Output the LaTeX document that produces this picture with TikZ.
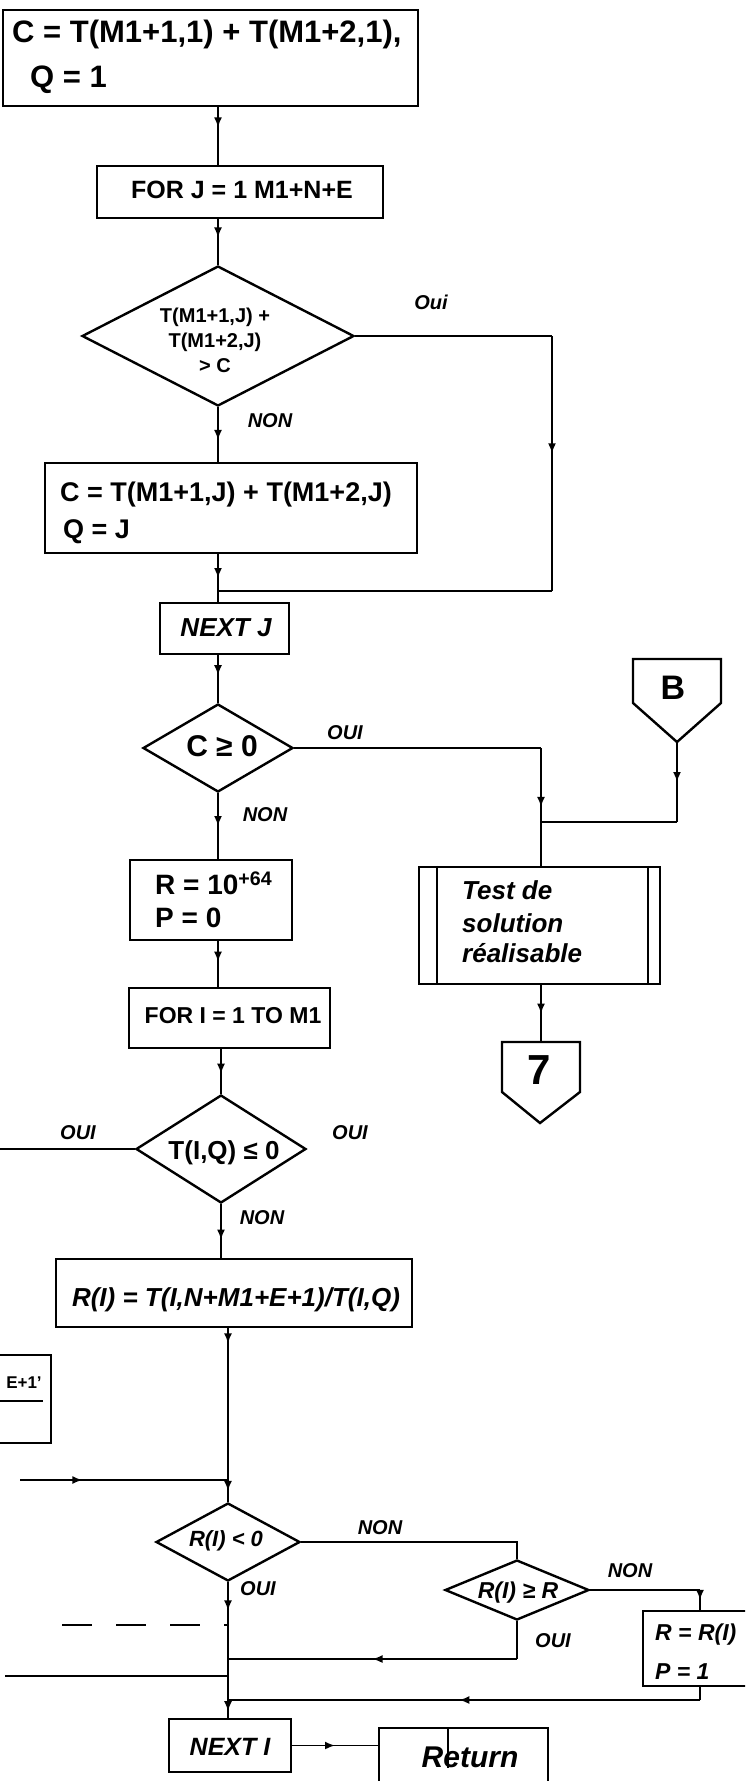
\documentclass[tikz,border=0pt]{standalone}
\usepackage{fontspec}
\setmainfont{Liberation Sans}
\usetikzlibrary{shapes.geometric,arrows.meta,decorations.markings}
\begin{document}
\begin{tikzpicture}[x=1pt,y=-1pt,
  shp/.style={draw,line width=2.4pt,inner sep=0pt},
  box/.style={shp,rectangle},
  dia/.style={shp,diamond},
  conn/.style={line width=1.8pt},
  marr/.style={postaction={decorate},decoration={markings,mark=at position #1 with {\arrow{Latex[length=10pt,width=8pt]}}}},
  tx/.style={inner sep=0pt,font=\bfseries\fontsize{#1}{#1}\selectfont},
  tw/.style={tx=#1,anchor=west},
  it/.style={inner sep=0pt,font=\bfseries\itshape\fontsize{#1}{#1}\selectfont},
  lbl/.style={it=20},
]
\useasboundingbox (0,0) rectangle (745,1781);
\clip (0,0) rectangle (745,1781);
\fill[white] (0,0) rectangle (745,1781);

% ---------- upper column ----------
\node[box,minimum width=415pt,minimum height=96pt] (b1) at (210.5,58) {};
\node[tw=31] (b1a) at (12,34) {C = T(M1+1,1) + T(M1+2,1),};
\node[tw=31] (b1b) at (30,80) {Q = 1};

\node[box,minimum width=286pt,minimum height=52pt] (b2) at (240,192) {};
\node[tx=25] (b2t) at (242,190) {FOR J = 1 M1+N+E};

\node[dia,minimum width=272pt,minimum height=140pt] (d1) at (218,336) {};
\node[inner sep=0pt,align=center,font=\bfseries\fontsize{20}{25}\selectfont] (d1t) at (215,340) {T(M1+1,J) +\\T(M1+2,J)\\> C};

\node[box,minimum width=372pt,minimum height=90pt] (b3) at (231,508) {};
\node[tw=27] (b3a) at (60,495) {C = T(M1+1,J) + T(M1+2,J)};
\node[tw=27] (b3b) at (63,532) {Q = J};

\node[box,minimum width=129pt,minimum height=51pt] (bJ) at (224.5,628.5) {};
\node[it=26] (bJt) at (226,628) {NEXT J};

\node[dia,minimum width=150pt,minimum height=88pt] (d2) at (218,748) {};
\node[tx=30] (d2t) at (222,746) {C ≥ 0};

\node[box,minimum width=162pt,minimum height=80pt] (bR) at (211,900) {};
\node[tw=28] (bRa) at (155,883) {R = 10\textsuperscript{+64}};
\node[tw=28] (bRb) at (155,918) {P = 0};

\node[box,minimum width=201pt,minimum height=60pt] (bF) at (229.5,1018) {};
\node[tx=23] (bFt) at (233,1016) {FOR I = 1 TO M1};

\node[dia,minimum width=170pt,minimum height=108pt] (d3) at (221,1149) {};
\node[tx=26] (d3t) at (224,1153) {T(I,Q) ≤ 0};

\node[box,minimum width=356pt,minimum height=68pt] (bRI) at (234,1293) {};
\node[it=26] (bRIt) at (236,1300) {R(I) = T(I,N+M1+E+1)/T(I,Q)};

% ---------- right branch ----------
\node[box,minimum width=241pt,minimum height=117pt] (test) at (539.5,925.5) {};
\draw[shp] ([xshift=19pt]test.north west) -- ([xshift=19pt]test.south west);
\draw[shp] ([xshift=-13pt]test.north east) -- ([xshift=-13pt]test.south east);
\node[it=26,anchor=west] (testa) at (462,890) {Test de};
\node[it=26,anchor=west] (testb) at (462,923) {solution};
\node[it=26,anchor=west] (testc) at (462,953) {réalisable};

\draw[shp] (633,659) -- (721,659) -- (721,703) -- (677,742) -- (633,703) -- cycle;
\coordinate (Btip) at (677,742);
\node[tx=34] (Bt) at (673,688) {B};

\draw[shp] (502,1042) -- (580,1042) -- (580,1092) -- (540,1123) -- (502,1092) -- cycle;
\coordinate (Stop) at (541,1042);
\node[tx=42] (St) at (539,1070) {7};

% ---------- lower part ----------
\draw[shp] (0,1355) -- (51,1355) -- (51,1443) -- (0,1443);
\node[tx=17] (Ft) at (24,1383) {E+1'};
\coordinate (Fa) at (0,1401);
\coordinate (Fb) at (43,1401);
\draw[line width=1.2pt] (Fa) -- (Fb);

\node[dia,minimum width=144pt,minimum height=78pt] (d4) at (228,1542) {};
\node[it=22] (d4t) at (226,1541) {R(I) < 0};

\node[dia,minimum width=144pt,minimum height=60pt] (d5) at (517,1590) {};
\node[it=23] (d5t) at (518,1593) {R(I) ≥ R};

\node[box,minimum width=127pt,minimum height=75pt] (bR2) at (706.5,1648.5) {};
\node[it=23,anchor=west] (bR2a) at (655,1635) {R = R(I)};
\node[it=23,anchor=west] (bR2b) at (655,1672) {P = 1};

\node[box,minimum width=122pt,minimum height=53pt] (bNI) at (230,1745.5) {};
\node[it=25] (bNIt) at (230,1747) {NEXT I};

\node[box,minimum width=169pt,minimum height=62pt] (bRet) at (463.5,1759) {};
\node[it=30] (bRett) at (470,1757) {Return};
\coordinate (rs1) at (448,1728);
\coordinate (rs2) at (448,1768);
\draw[line width=1.6pt] (rs1) -- (rs2);

% ---------- labels ----------
\node[lbl] (o1) at (431,302) {Oui};
\node[lbl] (n1) at (270,421) {NON};
\node[lbl] (o2) at (345,733) {OUI};
\node[lbl] (n2) at (265,815) {NON};
\node[lbl] (o3l) at (78,1133) {OUI};
\node[lbl] (o3r) at (350,1133) {OUI};
\node[lbl] (n3) at (262,1218) {NON};
\node[lbl] (n4) at (380,1528) {NON};
\node[lbl] (n5) at (630,1571) {NON};
\node[lbl] (o4) at (258,1589) {OUI};
\node[lbl] (o5) at (553,1641) {OUI};

% ---------- connectors ----------
\coordinate (cA) at (218,0);
\coordinate (cR) at (552,0);
\coordinate (cT) at (541,0);
\coordinate (cB) at (228,0);
\coordinate (cR2) at (700,0);
\coordinate (j1) at (218,591);
\coordinate (jB) at (541,822);
\coordinate (L3) at (0,1149);
\coordinate (j2) at (228,1480);
\coordinate (L4) at (20,1480);
\coordinate (j3) at (228,1625);
\coordinate (D1) at (62,1625);
\coordinate (j4) at (228,1659);
\coordinate (j6) at (228,1676);
\coordinate (L6) at (5,1676);
\coordinate (j5) at (228,1700);

\draw[conn,marr=0.35] (b1.south -| cA) -- (b2.north -| cA);
\draw[conn,marr=0.4] (b2.south -| cA) -- (d1.north);
\draw[conn] (d1.east) -- (d1.east -| cR);
\draw[conn,marr=0.46] (d1.east -| cR) -- (j1 -| cR);
\draw[conn] (j1 -| cR) -- (j1);
\draw[conn,marr=0.6] (d1.south) -- (b3.north -| cA);
\draw[conn,marr=0.5] (b3.south -| cA) -- (bJ.north -| cA);
\draw[conn,marr=0.42] (bJ.south -| cA) -- (d2.north);
\draw[conn] (d2.east) -- (d2.east -| cT);
\draw[conn,marr=0.5] (d2.east -| cT) -- (test.north -| cT);
\draw[conn,marr=0.5] (Btip) -- (Btip |- jB);
\draw[conn] (Btip |- jB) -- (jB);
\draw[conn,marr=0.5] (d2.south) -- (bR.north -| cA);
\draw[conn,marr=0.45] (bR.south -| cA) -- (bF.north -| cA);
\draw[conn,marr=0.55] (bF.south -| d3.north) -- (d3.north);
\draw[conn,line width=2.4pt] (d3.west) -- (d3.west -| L3);
\draw[conn,marr=0.66] (d3.south) -- (d3.south |- bRI.north);
\draw[conn,marr=0.5] (test.south -| cT) -- (Stop);
\draw[conn,marr=0.1] (bRI.south -| cB) -- (j2);
\draw[conn,marr=0.3] (L4) -- (j2);
\draw[conn,marr=0.5] (j2) -- (d4.north);
\draw[conn] (d4.east) -- (d4.east -| d5.north) -- (d5.north);
\draw[conn] (d5.east) -- (d5.east -| cR2);
\draw[conn,marr=0.5] (d5.east -| cR2) -- (bR2.north -| cR2);
\draw[conn] (bR2.south -| cR2) -- (j5 -| cR2);
\draw[conn,marr=0.51] (j5 -| cR2) -- (j5);
\draw[conn] (d5.south) -- (d5.south |- j4);
\draw[conn,marr=0.5] (d5.south |- j4) -- (j4);
\draw[conn,marr=0.66] (d4.south) -- (j3);
\draw[conn] (j3) -- (j5);
\draw[conn,marr=0.63] (j5) -- (bNI.north -| cB);
\draw[conn,dash pattern=on 30pt off 24pt] (D1) -- (j3);
\draw[conn] (L6) -- (j6);
\draw[conn,marr=0.5] (bNI.east) -- (bNI.east -| bRet.west);
\end{tikzpicture}
\end{document}
